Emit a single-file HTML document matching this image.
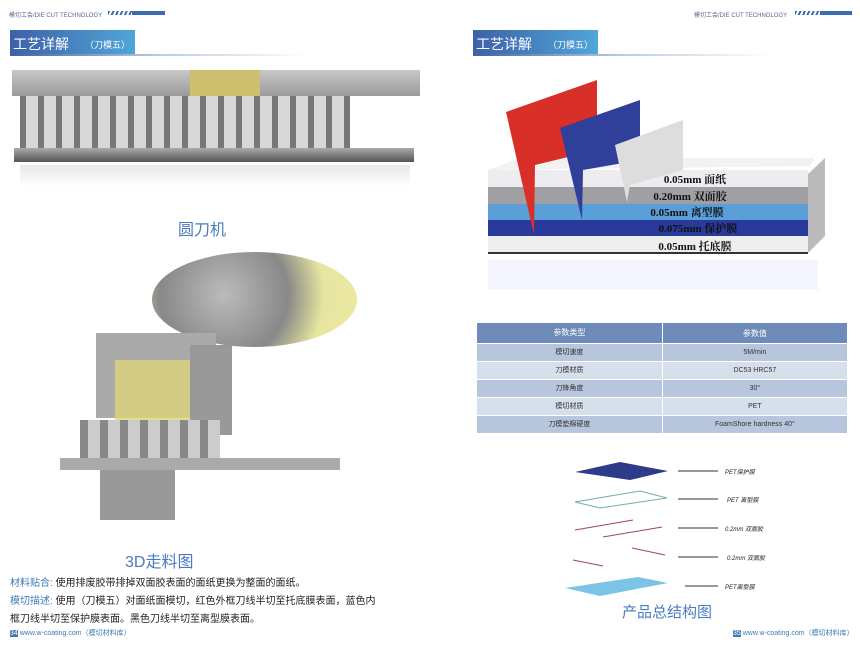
<!DOCTYPE html><html><head><meta charset="utf-8"><style>
body{margin:0;width:860px;height:645px;background:#fff;position:relative;overflow:hidden;font-family:"Liberation Sans","Noto Sans CJK SC",sans-serif}
.a{position:absolute}
.hd{font-size:6px;color:#5a6a8a;white-space:nowrap}
.ttl{color:#fff;font-size:14px}
table{border-collapse:collapse;font-size:7px;color:#333}
td{text-align:center;height:17px;padding:0;line-height:17px;border-bottom:1px solid #fff;border-right:1px solid #fff}
</style></head><body>
<!-- left header -->
<div class="a hd" style="left:9px;top:10px">模切工会/DIE CUT TECHNOLOGY</div>
<div class="a" style="left:108px;top:11px;width:57px;height:4px;background:repeating-linear-gradient(115deg,#3c6cb0 0 2px,#fff 2px 4px)"></div>
<div class="a" style="left:132px;top:11px;width:33px;height:4px;background:#3c6cb0"></div>
<div class="a" style="left:10px;top:30px;width:125px;height:24px;background:linear-gradient(90deg,#3e61a8,#4fa6d8)"></div>
<div class="a ttl" style="left:13px;top:34px">工艺详解</div>
<div class="a" style="left:85px;top:38px;font-size:9px;color:#fff">（刀模五）</div>
<div class="a" style="left:10px;top:54px;width:300px;height:2px;background:linear-gradient(90deg,#3e61a8,#bcd 50%,#fff)"></div>
<!-- machine 1 -->
<div class="a" style="left:12px;top:70px;width:408px;height:26px;background:linear-gradient(#c8c8c8,#9a9a9a)"></div>
<div class="a" style="left:190px;top:70px;width:70px;height:26px;background:#cfc070"></div>
<div class="a" style="left:20px;top:96px;width:330px;height:55px;background:repeating-linear-gradient(90deg,#777 0 6px,#d8d8d8 6px 18px)"></div>
<div class="a" style="left:14px;top:148px;width:400px;height:14px;background:linear-gradient(#aaa,#555)"></div>
<div class="a" style="left:20px;top:165px;width:390px;height:22px;background:linear-gradient(#e8e8e8,#fff)"></div>
<div class="a" style="left:178px;top:216px;font-size:16px;color:#4a7bc0">圆刀机</div>
<!-- machine 2 -->
<div class="a" style="left:152px;top:252px;width:205px;height:95px;border-radius:50%;background:radial-gradient(circle at 35% 45%,#bbb,#888 45%,#e6e6a0 70%,#eee8a0)"></div>
<div class="a" style="left:96px;top:333px;width:120px;height:85px;background:#aaa"></div>
<div class="a" style="left:190px;top:345px;width:42px;height:90px;background:#999"></div>
<div class="a" style="left:115px;top:360px;width:75px;height:70px;background:#ddd57a;opacity:.8"></div>
<div class="a" style="left:80px;top:420px;width:140px;height:40px;background:repeating-linear-gradient(90deg,#888 0 8px,#ccc 8px 20px)"></div>
<div class="a" style="left:60px;top:458px;width:280px;height:12px;background:#aaa"></div>
<div class="a" style="left:100px;top:470px;width:75px;height:50px;background:#999"></div>
<div class="a" style="left:125px;top:548px;font-size:16px;color:#4a7bc0">3D走料图</div>
<div class="a" style="left:10px;top:575px;font-size:10px;color:#222;line-height:18px;width:420px"><span style="color:#3d7ab8">材料贴合:</span> 使用排废胶带排掉双面胶表面的面纸更换为整面的面纸。<br><span style="color:#3d7ab8">模切描述:</span> 使用（刀模五）对面纸面模切，红色外框刀线半切至托底膜表面，蓝色内<br>框刀线半切至保护膜表面。黑色刀线半切至离型膜表面。</div>
<div class="a" style="left:10px;top:628px;font-size:7px;color:#3d7ab8"><span style="background:#3d7ab8;color:#fff">34</span> www.w-coating.com（模切材料库）</div>
<!-- right header -->
<div class="a hd" style="left:694px;top:10px">模切工会/DIE CUT TECHNOLOGY</div>
<div class="a" style="left:795px;top:11px;width:57px;height:4px;background:repeating-linear-gradient(115deg,#3c6cb0 0 2px,#fff 2px 4px)"></div>
<div class="a" style="left:820px;top:11px;width:32px;height:4px;background:#3c6cb0"></div>
<div class="a" style="left:473px;top:30px;width:125px;height:24px;background:linear-gradient(90deg,#3e61a8,#4fa6d8)"></div>
<div class="a ttl" style="left:476px;top:34px">工艺详解</div>
<div class="a" style="left:548px;top:38px;font-size:9px;color:#fff">（刀模五）</div>
<div class="a" style="left:473px;top:54px;width:300px;height:2px;background:linear-gradient(90deg,#3e61a8,#bcd 50%,#fff)"></div>
<!-- layers -->
<svg class="a" style="left:480px;top:70px" width="370" height="230">
<polygon points="8,100 330,96 335,88 40,88" fill="#f2f2f2"/>
<polygon points="328,104 345,88 345,166 328,183" fill="#bbb"/>
<rect x="8" y="100" width="320" height="17" fill="#ededf0"/>
<rect x="8" y="117" width="320" height="17" fill="#a0a0a4"/>
<rect x="8" y="134" width="320" height="16" fill="#5a9fd8"/>
<rect x="8" y="150" width="320" height="16" fill="#2a3a9a"/>
<rect x="8" y="166" width="320" height="16" fill="#eee"/>
<rect x="8" y="182" width="320" height="2" fill="#333"/>
<rect x="8" y="190" width="330" height="30" fill="#eef" opacity=".6"/>
<polygon points="26,42 117,10 117,80 55,95 54,165" fill="#d83028"/>
<polygon points="80,58 160,30 160,90 103,100 102,150" fill="#2f3f9a"/>
<polygon points="135,75 203,50 203,100 150,115 147,132" fill="#ddd"/>
<g font-family="Liberation Serif,Noto Serif CJK SC,serif" font-size="11" font-weight="bold" fill="#111" text-anchor="middle">
<text x="215" y="113">0.05mm 面纸</text><text x="210" y="130">0.20mm 双面胶</text><text x="207" y="146">0.05mm 离型膜</text><text x="218" y="162">0.075mm 保护膜</text><text x="215" y="180">0.05mm 托底膜</text></g>
</svg>
<!-- table -->
<table class="a" style="left:477px;top:323px;width:371px">
<tr style="background:#6d8ab8;color:#fff;font-size:8px"><td style="height:20px;line-height:20px;width:50%">参数类型</td><td>参数值</td></tr>
<tr style="background:#b7c6dc"><td>模切速度</td><td>5M/min</td></tr>
<tr style="background:#d6dfec"><td>刀模材质</td><td>DC53 HRC57</td></tr>
<tr style="background:#b7c6dc"><td>刀锋角度</td><td>30°</td></tr>
<tr style="background:#d6dfec"><td>模切材质</td><td>PET</td></tr>
<tr style="background:#b7c6dc"><td>刀模垫棉硬度</td><td>FoamShore hardness 40°</td></tr>
</table>
<!-- exploded -->
<svg class="a" style="left:560px;top:455px" width="300" height="150">
<polygon points="15,17 60,7 108,16 70,25" fill="#2e3a8a"/>
<polygon points="15,47 80,36 107,43 40,53" fill="none" stroke="#7aa" stroke-width="1"/>
<line x1="15" y1="75" x2="73" y2="65" stroke="#a04070" stroke-width="1"/>
<line x1="43" y1="82" x2="102" y2="72" stroke="#a04070"/>
<line x1="13" y1="105" x2="43" y2="111" stroke="#a04070"/>
<line x1="72" y1="93" x2="105" y2="100" stroke="#a04070"/>
<polygon points="5,133 78,122 108,128 40,141" fill="#7cc4e6"/>
<g stroke="#333"><line x1="118" y1="16" x2="158" y2="16"/><line x1="118" y1="44" x2="158" y2="44"/><line x1="118" y1="73" x2="158" y2="73"/><line x1="118" y1="102" x2="158" y2="102"/><line x1="125" y1="131" x2="158" y2="131"/></g>
<g font-size="6" font-style="italic" fill="#222" font-family="Liberation Sans,Noto Sans CJK SC,sans-serif"><text x="165" y="19">PET保护膜</text><text x="167" y="47">PET 离型膜</text><text x="165" y="76">0.2mm 双面胶</text><text x="167" y="105">0.2mm 双面胶</text><text x="165" y="134">PET离型膜</text></g>
</svg>
<div class="a" style="left:622px;top:601px;font-size:15px;color:#4a7bc0">产品总结构图</div>
<div class="a" style="left:733px;top:628px;font-size:7px;color:#3d7ab8"><span style="background:#3d7ab8;color:#fff">35</span> www.w-coating.com（模切材料库）</div>
</body></html>
